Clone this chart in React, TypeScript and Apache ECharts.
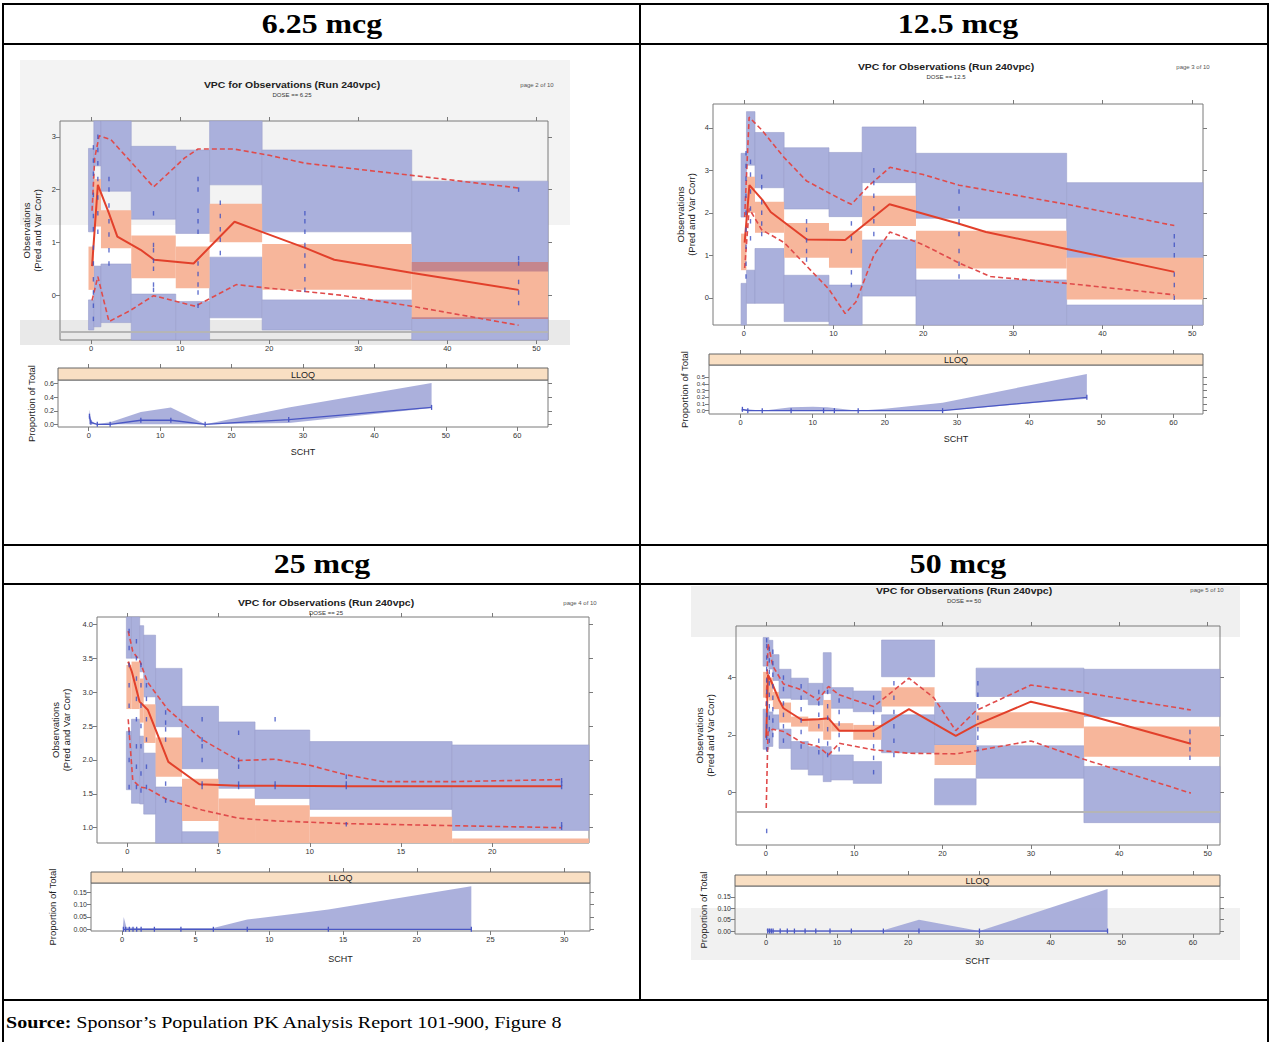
import React, { useEffect, useRef } from "react";
import * as echarts from "echarts";

const FONT = "'Liberation Sans', Arial, sans-serif";
const SERIF = "'Liberation Serif', 'Times New Roman', serif";

// ---------- texts ----------
const doseHeaders = ["6.25 mcg", "12.5 mcg", "25 mcg", "50 mcg"];
const doseLabels = ["DOSE == 6.25", "DOSE == 12.5", "DOSE == 25", "DOSE == 50"];
const pageLabels = ["page 2 of 10", "page 3 of 10", "page 4 of 10", "page 5 of 10"];
const plotTitle = "VPC for Observations (Run 240vpc)";
const yTitleMain = "Observations\n(Pred and Var Corr)";
const yTitleLloq = "Proportion of Total";
const xTitleLloq = "SCHT";
const stripLabel = "LLOQ";
const sourceLead = "Source:";
const sourceNote = "Sponsor\u2019s Population PK Analysis Report 101-900, Figure 8";

// ---------- Panel 1 : 6.25 mcg ----------
const p1BinEdges = [-0.3, 0.3, 1.1, 4.5, 9.5, 13.3, 19.2, 36, 52];
const p1UpperCI = [[1.2, 2.78], [2.45, 3.35], [1.97, 3.35], [1.44, 2.82], [1.17, 2.75], [2.09, 3.35], [1.2, 2.75], [0.45, 2.16]];
const p1MedianCI = [[0.1, 0.92], [1.3, 2.2], [0.89, 1.61], [0.32, 1.13], [0.13, 0.92], [1.0, 1.73], [0.1, 0.97], [-0.45, 0.63]];
const p1LowerCI = [[-0.66, -0.09], [-0.6, 0.55], [-0.52, 0.59], [-0.9, 0.02], [-0.9, -0.12], [-0.43, 0.72], [-0.66, -0.09], [-0.9, -0.42]];
const p1MedX = [0.1, 0.75, 2.0, 2.94, 5.55, 7.07, 11.5, 16.1, 24.1, 27.3, 36.1, 48];
const p1MedY = [0.55, 2.09, 1.55, 1.11, 0.86, 0.67, 0.6, 1.39, 0.89, 0.67, 0.42, 0.1];
const p1HiX = [0.1, 0.4, 0.9, 2.2, 7.0, 10.5, 12, 16, 20, 24, 36, 48];
const p1HiY = [1.6, 2.6, 3.02, 2.95, 2.05, 2.6, 2.77, 2.77, 2.65, 2.5, 2.27, 2.03];
const p1LoX = [0.1, 0.75, 2.0, 4.3, 7.0, 11.7, 16.3, 20, 24, 28, 36, 48];
const p1LoY = [-0.1, 0.35, -0.5, -0.3, -0.01, -0.21, 0.2, 0.13, 0.07, 0.0, -0.21, -0.57];
const p1ObsTimes = [0.25, 0.75, 2, 7, 12, 14.5, 24, 48];
const p1ObsValues = [
  [-0.45, -0.2, 0.05, 0.3, 0.6, 0.9, 1.25, 1.5, 1.9, 2.3, 2.55, 2.8],
  [1.2, 1.55, 1.85, 2.2, 2.5, 2.75, 3.0],
  [0.6, 0.85, 1.15, 1.4, 1.7, 2.0, 2.2],
  [0.1, 0.2, 0.5, 0.65, 0.85, 0.95, 1.55],
  [-0.2, 0.05, 0.2, 0.4, 0.6, 1.2, 1.4, 1.6, 2.0, 2.2],
  [0.8, 1.05, 1.25, 1.5, 1.75],
  [0.1, 0.3, 0.55, 0.75, 0.95, 1.2, 1.4, 1.55],
  [-0.15, 0.05, 0.25, 0.6, 0.7, 2.0],
];
const p1BandX = [0.05, 0.15, 0.3, 1.0, 3.0, 7.3, 11.5, 16.3, 28, 48];
const p1BandHi = [0.1, 0.22, 0.06, 0.0, 0.03, 0.18, 0.25, 0.0, 0.25, 0.61];
const p1BandLo = [0, 0, 0, 0, 0, 0, 0, 0, 0.02, 0.24];
const p1PropX = [0.1, 0.3, 1.2, 3.0, 7.3, 11.5, 16.3, 28, 48];
const p1PropY = [0.12, 0.03, 0.0, 0.0, 0.06, 0.06, 0.0, 0.07, 0.25];
const p1XTicks = [0, 10, 20, 30, 40, 50];
const p1YTicks = [0, 1, 2, 3];
const p1LXTicks = [0, 10, 20, 30, 40, 50, 60];
const p1LYTicks = [0, 0.2, 0.4, 0.6];

// ---------- Panel 2 : 12.5 mcg ----------
const p2BinEdges = [-0.3, 0.3, 1.25, 4.5, 9.5, 13.2, 19.2, 36, 52];
const p2UpperCI = [[1.9, 3.4], [3.12, 4.38], [2.59, 3.89], [2.09, 3.53], [1.91, 3.42], [2.71, 4.02], [1.87, 3.4], [0.94, 2.71]];
const p2MedianCI = [[0.65, 1.51], [2.0, 2.85], [1.53, 2.26], [0.94, 1.76], [0.71, 1.58], [1.69, 2.4], [0.69, 1.58], [-0.04, 0.94]];
const p2LowerCI = [[-0.7, 0.34], [-0.13, 0.65], [-0.13, 1.16], [-0.56, 0.53], [-0.7, 0.3], [0.04, 1.36], [-0.7, 0.42], [-0.7, -0.17]];
const p2MedX = [0.1, 0.63, 2.1, 3.0, 7.05, 11.3, 16.25, 23.9, 27, 36, 48];
const p2MedY = [1.3, 2.65, 2.3, 2.02, 1.37, 1.36, 2.2, 1.75, 1.55, 1.15, 0.61];
const p2HiX = [0.1, 0.6, 2, 4.5, 7, 11, 12, 14, 16.3, 20, 24, 36, 48];
const p2HiY = [1.9, 4.25, 3.95, 3.3, 2.75, 2.3, 2.2, 2.65, 3.07, 2.9, 2.65, 2.2, 1.7];
const p2LoX = [0.1, 0.6, 2, 4.5, 7, 9.5, 11.3, 12.5, 14.5, 16.3, 20, 24, 27.5, 36, 48];
const p2LoY = [0.7, 2.1, 1.6, 1.3, 0.75, 0.2, -0.37, -0.1, 1.0, 1.55, 1.25, 0.82, 0.5, 0.34, 0.07];
const p2ObsTimes = [0.25, 0.75, 2, 7, 12, 14.5, 24, 48];
const p2ObsValues = [
  [0.5, 0.8, 1.2, 1.6, 2.0, 2.4, 2.8, 3.1, 3.4],
  [1.4, 1.8, 2.1, 2.5, 2.9, 3.2],
  [1.5, 1.75, 2.0, 2.25, 2.6, 2.85],
  [0.9, 1.1, 1.35, 1.6, 1.8],
  [0.3, 0.6, 1.1, 1.4, 1.75],
  [1.5, 1.8, 2.1, 2.4, 2.7, 3.0],
  [0.5, 0.8, 1.1, 1.5, 1.8, 2.1, 2.5],
  [0.0, 0.3, 0.55, 1.0, 1.25, 1.45],
];
const p2BandX = [0.1, 0.3, 1, 3, 7, 10, 12, 16.3, 20, 28, 48];
const p2BandHi = [0.03, 0.02, 0.02, 0.0, 0.05, 0.06, 0.05, 0.0, 0.03, 0.12, 0.55];
const p2BandLo = [0, 0, 0, 0, 0, 0, 0, 0, 0, 0, 0.18];
const p2PropX = [0.25, 1, 3, 7, 11.5, 13, 16.3, 28, 48];
const p2PropY = [0.02, 0.0, 0.0, 0.0, 0.0, 0.0, 0.0, 0.0, 0.2];
const p2XTicks = [0, 10, 20, 30, 40, 50];
const p2YTicks = [0, 1, 2, 3, 4];
const p2LXTicks = [0, 10, 20, 30, 40, 50, 60];
const p2LYTicks = [0, 0.1, 0.2, 0.3, 0.4, 0.5];

// ---------- Panel 3 : 25 mcg ----------
const p3BinEdges = [-0.05, 0.23, 0.68, 0.9, 1.55, 3.0, 5.0, 7.0, 10.0, 17.8, 25.5];
const p3UpperCI = [[3.5, 4.2], [3.5, 4.2], [3.3, 3.98], [2.93, 3.84], [2.49, 3.35], [1.87, 2.79], [1.58, 2.56], [1.43, 2.44], [1.27, 2.27], [0.96, 2.22]];
const p3MedianCI = [[2.75, 3.4], [2.75, 3.45], [2.55, 3.2], [2.25, 2.82], [1.75, 2.33], [1.1, 1.72], [0.6, 1.43], [0.6, 1.33], [0.6, 1.16], [0.6, 0.84]];
const p3LowerCI = [[1.56, 2.42], [1.36, 2.6], [1.35, 2.35], [1.2, 2.1], [0.6, 1.6], [0.6, 0.94], [0.3, 0.5], [0.3, 0.5], [0.3, 0.5], [0.3, 0.5]];
const p3MedX = [0.05, 0.25, 0.67, 1.12, 2.25, 3.95, 6.1, 8.1, 12, 23.8];
const p3MedY = [3.45, 3.3, 2.86, 2.74, 1.97, 1.64, 1.62, 1.62, 1.61, 1.61];
const p3HiX = [0.05, 0.3, 0.7, 1.1, 2.2, 4.1, 6.1, 8.1, 10, 12, 14, 18, 23.8];
const p3HiY = [3.9, 3.6, 3.45, 3.15, 2.75, 2.3, 1.99, 2.01, 1.92, 1.78, 1.68, 1.68, 1.71];
const p3LoX = [0.05, 0.3, 0.7, 1.1, 2.2, 4.1, 6.1, 8.1, 12, 17.8, 23.8];
const p3LoY = [2.6, 1.7, 1.6, 1.58, 1.41, 1.26, 1.14, 1.1, 1.06, 1.03, 1.0];
const p3ObsTimes = [0.1, 0.5, 0.75, 1.05, 2.1, 4.1, 6.1, 8.1, 12, 23.8];
const p3ObsValues = [
  [1.6, 2.0, 2.4, 2.8, 3.1, 3.4, 3.65, 3.9],
  [1.6, 1.9, 2.2, 2.6, 2.9, 3.2, 3.5, 3.75],
  [1.55, 1.8, 2.2, 2.5, 2.8, 3.1, 3.4],
  [1.6, 1.9, 2.3, 2.6, 2.9, 3.1],
  [1.4, 1.65, 2.3, 2.45, 2.55, 2.7],
  [1.6, 1.65, 2.0, 2.2, 2.3, 2.6],
  [1.6, 1.65, 1.9, 2.0, 2.4],
  [1.6, 1.65, 2.6],
  [1.05, 1.6, 1.65, 1.75],
  [1.0, 1.05, 1.6, 1.65, 1.7],
];
const p3BandX = [0.05, 0.12, 0.3, 1, 2.2, 4, 6.2, 8.5, 12, 14, 23.7];
const p3BandHi = [0.0, 0.05, 0.008, 0.005, 0.005, 0.005, 0.005, 0.04, 0.065, 0.08, 0.175];
const p3BandLo = [0, 0, 0, 0, 0, 0, 0, 0, 0, 0, 0];
const p3PropX = [0.1, 0.25, 0.5, 0.75, 1.0, 1.3, 2.2, 4.0, 6.2, 8.5, 14, 23.7];
const p3PropY = [0, 0, 0, 0, 0, 0, 0, 0, 0, 0, 0, 0];
const p3XTicks = [0, 5, 10, 15, 20];
const p3YTicks = [1.0, 1.5, 2.0, 2.5, 3.0, 3.5, 4.0];
const p3LXTicks = [0, 5, 10, 15, 20, 25, 30];
const p3LYTicks = [0, 0.05, 0.1, 0.15];

// ---------- Panel 4 : 50 mcg ----------
const p4BinEdges = [-0.3, 0.35, 0.8, 1.5, 2.86, 4.81, 6.5, 7.4, 9.9, 13.1, 19.1, 23.8, 36, 52];
const p4UpperCI = [[4.4, 5.4], [4.3, 5.3], [3.9, 4.8], [3.28, 4.29], [3.24, 3.98], [3.05, 3.8], [3.45, 4.87], [2.93, 3.65], [2.81, 3.53], [4.03, 5.31], [1.65, 3.13], [3.34, 4.33], [2.64, 4.29]];
const p4MedianCI = [[3.3, 4.2], [3.2, 4.0], [2.9, 3.5], [2.43, 3.13], [2.29, 2.64], [2.12, 2.58], [1.83, 3.22], [2.12, 2.41], [1.83, 2.35], [2.99, 3.66], [0.95, 1.65], [2.23, 2.79], [1.24, 2.29]];
const p4LowerCI = [[1.5, 2.9], [1.6, 2.8], [2.2, 2.7], [1.53, 2.2], [0.8, 1.77], [0.6, 1.59], [0.37, 1.59], [0.43, 1.3], [0.31, 1.07], [1.38, 2.7], [-0.44, 0.47], [0.49, 1.62], [-1.06, 0.9]];
const p4MedX = [0.05, 0.25, 0.8, 1.5, 2, 4.1, 6, 7.1, 8.3, 12.2, 16.2, 21.5, 23.8, 30, 36, 48.1];
const p4MedY = [1.9, 4.1, 3.74, 3.22, 2.93, 2.52, 2.55, 2.58, 2.15, 2.15, 2.9, 1.97, 2.35, 3.16, 2.73, 1.69];
const p4HiX = [0.05, 0.25, 0.8, 2, 4.1, 5.9, 7.1, 8.3, 12.2, 16.2, 19, 21.5, 23.8, 30, 36, 48.1];
const p4HiY = [3.0, 5.2, 4.4, 3.78, 3.57, 3.22, 3.69, 3.4, 2.99, 3.98, 3.3, 2.15, 2.85, 3.74, 3.48, 2.87];
const p4LoX = [0.05, 0.25, 0.8, 2, 4.1, 5.9, 7.1, 8.3, 12.2, 16.2, 21.5, 23.8, 30, 36, 48.1];
const p4LoY = [-0.55, 2.1, 2.2, 2.12, 1.73, 1.6, 1.3, 1.71, 1.48, 1.36, 1.34, 1.45, 1.79, 1.15, -0.03];
const p4ObsTimes = [0.1, 0.4, 0.8, 2, 4, 6, 7, 8.3, 12.2, 14.5, 24, 48];
const p4ObsValues = [
  [-1.35, 1.5, 1.9, 2.3, 2.7, 3.1, 3.5, 3.9, 4.3, 4.7, 5.1, 5.3],
  [1.8, 2.2, 2.6, 3.0, 3.4, 3.8, 4.2, 4.6, 5.0],
  [2.0, 2.5, 2.9, 3.3, 3.7, 4.1, 4.5, 4.9],
  [1.8, 2.3, 2.7, 3.1, 3.6, 4.0],
  [1.6, 2.1, 2.5, 2.9, 3.3, 3.7],
  [1.4, 1.8, 2.3, 2.7, 3.1, 3.5],
  [1.3, 1.7, 2.2, 2.6, 3.0, 3.5],
  [1.5, 2.0, 2.4, 2.8, 3.2],
  [0.7, 1.2, 1.6, 2.0, 2.4, 2.8, 3.3],
  [1.3, 1.8, 2.3, 2.8, 3.3, 3.8],
  [1.5, 1.9, 2.2, 2.6, 3.0, 3.4, 3.8],
  [1.2, 1.5, 1.8, 2.1],
];
const p4BandX = [0.1, 0.5, 1, 3, 9, 12, 16.5, 21.5, 30, 48];
const p4BandHi = [0.01, 0.01, 0.005, 0.003, 0.003, 0.003, 0.003, 0.05, 0.0, 0.185];
const p4BandLo = [0, 0, 0, 0, 0, 0, 0, 0, 0, 0];
const p4PropX = [0.25, 0.5, 0.75, 1, 2, 3, 4, 5.5, 7, 9, 12, 16.5, 21.5, 30, 48];
const p4PropY = [0, 0, 0, 0, 0, 0, 0, 0, 0, 0, 0, 0, 0, 0, 0];
const p4XTicks = [0, 10, 20, 30, 40, 50];
const p4YTicks = [0, 2, 4];
const p4LXTicks = [0, 10, 20, 30, 40, 50, 60];
const p4LYTicks = [0, 0.05, 0.1, 0.15];

const lloqRefLevels = [-0.69, null, null, -0.68];

// ---------- assembly ----------
const panels = [
  { edges: p1BinEdges, up: p1UpperCI, med: p1MedianCI, lo: p1LowerCI, medX: p1MedX, medY: p1MedY, hiX: p1HiX, hiY: p1HiY, loX: p1LoX, loY: p1LoY, obsT: p1ObsTimes, obsV: p1ObsValues, bandX: p1BandX, bandHi: p1BandHi, bandLo: p1BandLo, propX: p1PropX, propY: p1PropY, xt: p1XTicks, yt: p1YTicks, lxt: p1LXTicks, lyt: p1LYTicks },
  { edges: p2BinEdges, up: p2UpperCI, med: p2MedianCI, lo: p2LowerCI, medX: p2MedX, medY: p2MedY, hiX: p2HiX, hiY: p2HiY, loX: p2LoX, loY: p2LoY, obsT: p2ObsTimes, obsV: p2ObsValues, bandX: p2BandX, bandHi: p2BandHi, bandLo: p2BandLo, propX: p2PropX, propY: p2PropY, xt: p2XTicks, yt: p2YTicks, lxt: p2LXTicks, lyt: p2LYTicks },
  { edges: p3BinEdges, up: p3UpperCI, med: p3MedianCI, lo: p3LowerCI, medX: p3MedX, medY: p3MedY, hiX: p3HiX, hiY: p3HiY, loX: p3LoX, loY: p3LoY, obsT: p3ObsTimes, obsV: p3ObsValues, bandX: p3BandX, bandHi: p3BandHi, bandLo: p3BandLo, propX: p3PropX, propY: p3PropY, xt: p3XTicks, yt: p3YTicks, lxt: p3LXTicks, lyt: p3LYTicks },
  { edges: p4BinEdges, up: p4UpperCI, med: p4MedianCI, lo: p4LowerCI, medX: p4MedX, medY: p4MedY, hiX: p4HiX, hiY: p4HiY, loX: p4LoX, loY: p4LoY, obsT: p4ObsTimes, obsV: p4ObsValues, bandX: p4BandX, bandHi: p4BandHi, bandLo: p4BandLo, propX: p4PropX, propY: p4PropY, xt: p4XTicks, yt: p4YTicks, lxt: p4LXTicks, lyt: p4LYTicks },
];

// layout (pixels) and axis extents
const layouts = [
  { main: [60, 121, 488, 219], x: [-3.5, 51.3], y: [-0.85, 3.3], yDec: 0, yGap: 17,
    lloq: [58, 380, 490, 47], strip: 12, lx: [-4.3, 64.3], ly: [-0.04, 0.655], lyDec: 1, lyGap: 22, lxGap: 20, lyFont: 7,
    title: [292, 85], page: [537, 85], header: [322, 24] },
  { main: [713, 104, 490, 221], x: [-3.43, 51.2], y: [-0.64, 4.56], yDec: 0, yGap: 16,
    lloq: [709, 365, 494, 49], strip: 11, lx: [-4.38, 64.1], ly: [-0.05, 0.684], lyDec: 1, lyGap: 20, lxGap: 20, lyFont: 6,
    title: [946, 67], page: [1193, 67], header: [958, 24] },
  { main: [97, 617, 492, 226], x: [-1.66, 25.3], y: [0.774, 4.108], yDec: 1, yGap: 25,
    lloq: [91, 883, 499, 48], strip: 11, lx: [-2.1, 31.75], ly: [-0.007, 0.188], lyDec: 2, lyGap: 34, lxGap: 23, lyFont: 7,
    title: [326, 603], page: [580, 603], header: [322, 564] },
  { main: [736, 626, 484, 219], x: [-3.37, 51.4], y: [-1.84, 5.8], yDec: 0, yGap: 20,
    lloq: [735, 886, 485, 48], strip: 11, lx: [-4.35, 63.8], ly: [-0.013, 0.198], lyDec: 2, lyGap: 27, lxGap: 22, lyFont: 7,
    title: [964, 591], page: [1207, 590], header: [958, 564] },
];

const BLUE = "#aab0dc";
const SALMON = "#f7b69b";
const OVERLAP = "#c5868d";
const RECT_FILL = [BLUE, SALMON, OVERLAP];
const AXIS_GREY = "#7a7a7a";
const DOC_STRETCH = 1.18;

function valueAxis(gridIndex: number, position: string, ext: number[], ticks: number[], showLabels: boolean, dec: number, extra: any = {}, fontSize = 7.5) {
  return {
    type: "value",
    gridIndex,
    position,
    min: ext[0],
    max: ext[1],
    axisLine: { show: false, onZero: false },
    splitLine: { show: false },
    axisTick: { show: true, customValues: ticks, length: 4, lineStyle: { color: AXIS_GREY, width: 1 } },
    axisLabel: {
      show: showLabels,
      customValues: ticks,
      formatter: (v: number) => v.toFixed(dec),
      fontSize,
      color: "#333",
      fontFamily: FONT,
      margin: 4,
      hideOverlap: false,
      showMinLabel: true,
      showMaxLabel: true,
    },
    ...extra,
  };
}

function buildRects(p: any) {
  const out: number[][] = [];
  const n = p.edges.length - 1;
  for (let i = 0; i < n; i++) {
    out.push([p.edges[i], p.edges[i + 1], p.up[i][0], p.up[i][1], 0]);
    out.push([p.edges[i], p.edges[i + 1], p.lo[i][0], p.lo[i][1], 0]);
  }
  for (let i = 0; i < n; i++) out.push([p.edges[i], p.edges[i + 1], p.med[i][0], p.med[i][1], 1]);
  for (let i = 0; i < n; i++) {
    [p.up[i], p.lo[i]].forEach((ci: number[]) => {
      const a = Math.max(ci[0], p.med[i][0]);
      const b = Math.min(ci[1], p.med[i][1]);
      if (b > a) out.push([p.edges[i], p.edges[i + 1], a, b, 2]);
    });
  }
  return out;
}

function pairs(xs: number[], ys: number[]) {
  return xs.map((x, i) => [x, ys[i]]);
}

function buildOption() {
  const grid: any[] = [];
  const xAxis: any[] = [];
  const yAxis: any[] = [];
  const series: any[] = [];
  const elements: any[] = [];

  // photographic grey backgrounds of the pasted plots
  elements.push({ type: "rect", z: -10, shape: { x: 20, y: 60, width: 550, height: 165 }, style: { fill: "#f3f3f3" } });
  elements.push({ type: "rect", z: -10, shape: { x: 20, y: 320, width: 550, height: 25 }, style: { fill: "#e9e9e9" } });
  elements.push({ type: "rect", z: -10, shape: { x: 691, y: 586, width: 549, height: 51 }, style: { fill: "#f0f0f0" } });
  elements.push({ type: "rect", z: -10, shape: { x: 691, y: 908, width: 549, height: 52 }, style: { fill: "#f1f1f1" } });

  panels.forEach((p: any, k: number) => {
    const L: any = layouts[k];
    const gMain = grid.length;
    grid.push({ left: L.main[0], top: L.main[1], width: L.main[2], height: L.main[3], show: true, borderColor: AXIS_GREY, borderWidth: 1, backgroundColor: "transparent" });
    const gL = grid.length;
    grid.push({ left: L.lloq[0], top: L.lloq[1], width: L.lloq[2], height: L.lloq[3], show: true, borderColor: AXIS_GREY, borderWidth: 1, backgroundColor: "transparent" });

    const xb = xAxis.length;
    xAxis.push(valueAxis(gMain, "bottom", L.x, p.xt, true, 0));
    xAxis.push(valueAxis(gMain, "top", L.x, p.xt, false, 0));
    const yl = yAxis.length;
    yAxis.push(valueAxis(gMain, "left", L.y, p.yt, true, L.yDec, {
      name: yTitleMain, nameLocation: "middle", nameGap: L.yGap, nameRotate: 90,
      nameTextStyle: { fontSize: 9.5, lineHeight: 11, color: "#222", fontFamily: FONT },
    }));
    yAxis.push(valueAxis(gMain, "right", L.y, p.yt, false, L.yDec));

    const lxb = xAxis.length;
    xAxis.push(valueAxis(gL, "bottom", L.lx, p.lxt, true, 0, {
      name: xTitleLloq, nameLocation: "middle", nameGap: L.lxGap,
      nameTextStyle: { fontSize: 9, color: "#222", fontFamily: FONT },
    }));
    xAxis.push(valueAxis(gL, "top", L.lx, p.lxt, false, 0, { offset: L.strip }));
    const lyl = yAxis.length;
    yAxis.push(valueAxis(gL, "left", L.ly, p.lyt, true, L.lyDec, {
      name: yTitleLloq, nameLocation: "middle", nameGap: L.lyGap, nameRotate: 90,
      nameTextStyle: { fontSize: 9.5, color: "#222", fontFamily: FONT },
    }, L.lyFont));
    yAxis.push(valueAxis(gL, "right", L.ly, p.lyt, false, L.lyDec));

    // prediction-interval rectangles
    series.push({
      type: "custom",
      xAxisIndex: xb,
      yAxisIndex: yl,
      z: 1,
      silent: true,
      encode: { x: [0, 1], y: [2, 3] },
      data: buildRects(p),
      renderItem: (params: any, api: any) => {
        const a = api.coord([api.value(0), api.value(3)]);
        const b = api.coord([api.value(1), api.value(2)]);
        const cs = params.coordSys;
        const shape = echarts.graphic.clipRectByRect(
          { x: a[0], y: a[1], width: b[0] - a[0], height: b[1] - a[1] },
          { x: cs.x, y: cs.y, width: cs.width, height: cs.height }
        );
        if (!shape) return null;
        const kind = api.value(4);
        return {
          type: "rect",
          shape,
          style: { fill: RECT_FILL[kind], stroke: kind === 0 ? "#9a9fcc" : undefined, lineWidth: kind === 0 ? 0.6 : 0 },
        };
      },
    });

    // observations
    const obs: number[][] = [];
    p.obsT.forEach((t: number, i: number) => p.obsV[i].forEach((v: number) => obs.push([t, v])));
    series.push({
      type: "scatter",
      xAxisIndex: xb,
      yAxisIndex: yl,
      z: 4,
      silent: true,
      symbol: "rect",
      symbolSize: [1.4, 4.5],
      itemStyle: { color: "#3d50c2" },
      data: obs,
    });

    const lineCommon = { type: "line", xAxisIndex: xb, yAxisIndex: yl, symbol: "none", showSymbol: false, silent: true, z: 3 };
    series.push({ ...lineCommon, data: pairs(p.hiX, p.hiY), lineStyle: { color: "#e04b4b", width: 1.6, type: [5, 3] } });
    series.push({ ...lineCommon, data: pairs(p.loX, p.loY), lineStyle: { color: "#e04b4b", width: 1.6, type: [5, 3] } });
    const medSeries: any = { ...lineCommon, data: pairs(p.medX, p.medY), lineStyle: { color: "#e2402b", width: 2 } };
    if (lloqRefLevels[k] !== null) {
      medSeries.markLine = {
        silent: true, symbol: "none", label: { show: false },
        lineStyle: { color: "#b5b5b5", width: 2, type: "solid" },
        data: [{ yAxis: lloqRefLevels[k] }],
      };
    }
    series.push(medSeries);

    // LLOQ panel: simulated band
    series.push({
      type: "custom",
      xAxisIndex: lxb,
      yAxisIndex: lyl,
      z: 1,
      silent: true,
      encode: { x: 0, y: 1 },
      data: [[p.bandX[0], p.bandHi[0]]],
      renderItem: (params: any, api: any) => {
        const pts: number[][] = [];
        p.bandX.forEach((x: number, i: number) => pts.push(api.coord([x, p.bandHi[i]])));
        for (let i = p.bandX.length - 1; i >= 0; i--) pts.push(api.coord([p.bandX[i], p.bandLo[i]]));
        return { type: "polygon", shape: { points: pts }, style: { fill: "#a2a7d8", opacity: 0.9 } };
      },
    });
    series.push({
      type: "line",
      xAxisIndex: lxb,
      yAxisIndex: lyl,
      z: 3,
      silent: true,
      data: pairs(p.propX, p.propY),
      symbol: "rect",
      symbolSize: [1.3, 5],
      showSymbol: true,
      itemStyle: { color: "#4a57c4" },
      lineStyle: { color: "#4a57c4", width: 1.3 },
    });

    // strip
    const sx = L.lloq[0], sy = L.lloq[1] - L.strip, sw = L.lloq[2];
    elements.push({ type: "rect", z: 5, shape: { x: sx, y: sy, width: sw, height: L.strip }, style: { fill: "#f9dfc3", stroke: "#666", lineWidth: 1 } });
    elements.push({ type: "text", z: 6, x: sx + sw / 2, y: sy + L.strip / 2 + 0.5, style: { text: stripLabel, fontSize: 9, fontFamily: FONT, fill: "#222", align: "center", verticalAlign: "middle" } });

    // plot titles
    elements.push({ type: "text", z: 6, x: L.title[0], y: L.title[1], scaleX: 1.1, style: { text: plotTitle, fontSize: 9.5, fontWeight: "bold", fontFamily: FONT, fill: "#222", align: "center", verticalAlign: "middle" } });
    elements.push({ type: "text", z: 6, x: L.title[0], y: L.title[1] + 10, style: { text: doseLabels[k], fontSize: 6, fontFamily: FONT, fill: "#333", align: "center", verticalAlign: "middle" } });
    elements.push({ type: "text", z: 6, x: L.page[0], y: L.page[1], style: { text: pageLabels[k], fontSize: 6, fontFamily: FONT, fill: "#555", align: "center", verticalAlign: "middle" } });

    // dose header
    elements.push({ type: "text", z: 20, x: L.header[0], y: L.header[1], scaleX: DOC_STRETCH, style: { text: doseHeaders[k], fontSize: 27, fontWeight: "bold", fontFamily: SERIF, fill: "#000", align: "center", verticalAlign: "middle" } });
  });

  // table rules
  const hLines = [4, 44, 545, 584, 1000];
  hLines.forEach((y) => elements.push({ type: "line", z: 20, shape: { x1: 2, y1: y, x2: 1269, y2: y }, style: { stroke: "#000", lineWidth: 2 } }));
  elements.push({ type: "line", z: 20, shape: { x1: 3, y1: 4, x2: 3, y2: 1042 }, style: { stroke: "#000", lineWidth: 2 } });
  elements.push({ type: "line", z: 20, shape: { x1: 640, y1: 4, x2: 640, y2: 1000 }, style: { stroke: "#000", lineWidth: 2 } });
  elements.push({ type: "line", z: 20, shape: { x1: 1268, y1: 4, x2: 1268, y2: 1042 }, style: { stroke: "#000", lineWidth: 2 } });

  elements.push({
    type: "text", z: 20, x: 6, y: 1022, scaleX: DOC_STRETCH,
    style: {
      text: "{b|" + sourceLead + "} " + sourceNote,
      fontSize: 17, fontFamily: SERIF, fill: "#000", align: "left", verticalAlign: "middle",
      rich: { b: { fontSize: 17, fontFamily: SERIF, fontWeight: "bold", fill: "#000" } },
    },
  });

  return {
    animation: false,
    backgroundColor: "#ffffff",
    grid,
    xAxis,
    yAxis,
    series,
    graphic: { elements },
  };
}

export default function App() {
  const ref = useRef<HTMLDivElement>(null);
  useEffect(() => {
    if (!ref.current) return;
    const chart = echarts.init(ref.current, undefined, { renderer: "svg" });
    chart.setOption(buildOption() as any);
    return () => chart.dispose();
  }, []);
  return (
    <div
      ref={ref}
      style={{ position: "absolute", left: 0, top: 0, width: 1271, height: 1042, background: "#fff" }}
    />
  );
}
